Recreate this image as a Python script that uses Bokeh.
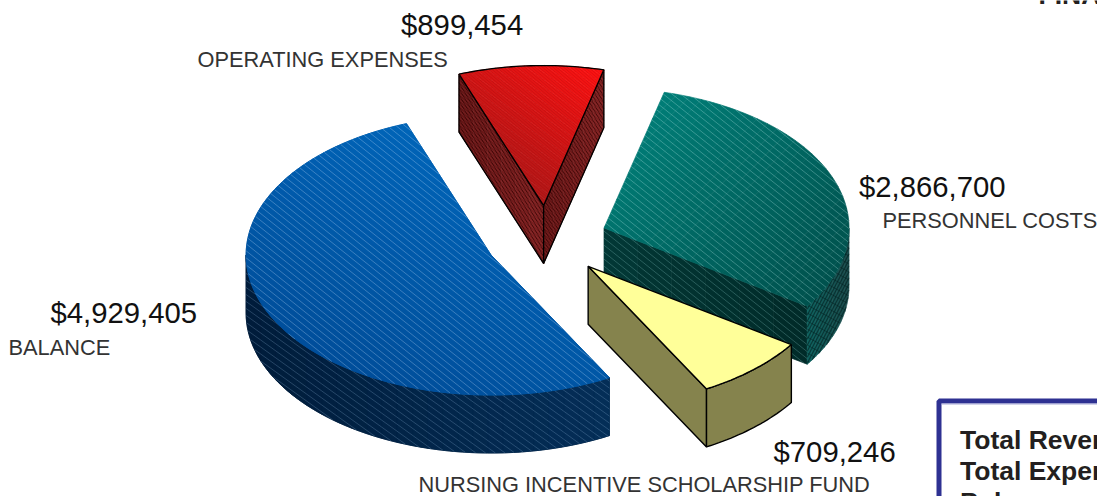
import math
from bokeh.plotting import figure
from bokeh.models import Range1d
from bokeh.core.properties import value
from bokeh.embed import file_html
from bokeh.resources import INLINE

categories = ["OPERATING EXPENSES", "PERSONNEL COSTS", "NURSING INCENTIVE SCHOLARSHIP FUND", "BALANCE"]
amounts = [899454, 2866700, 709246, 4929405]
amount_labels = ["$899,454", "$2,866,700", "$709,246", "$4,929,405"]
box_lines = ["Total Revenue", "Total Expenses", "Balance"]
page_title = ["FINANCIAL"]

# pie geometry (screen px)
CX, CY, RX, RY, DEPTH, EXPLODE, START = 546.3, 240.0, 245.0, 140.0, 58.0, 0.25, 110.2

p = figure(width=1097, height=496, output_backend="svg", toolbar_location=None,
           x_range=Range1d(0, 1097), y_range=Range1d(496, 0), min_border=0,
           outline_line_color=None, background_fill_color="white", x_axis_type=None, y_axis_type=None)
p.grid.visible = False

def arc(c, a0, a1, n=60):
    return [(c[0] + RX * math.cos(math.radians(a0 + (a1 - a0) * i / n)),
             c[1] - RY * math.sin(math.radians(a0 + (a1 - a0) * i / n))) for i in range(n + 1)]

def down(pts):
    return [(x, y + DEPTH) for x, y in pts]

def clip(poly, nx, ny, d):
    out = []
    for i in range(len(poly)):
        a, b = poly[i], poly[(i + 1) % len(poly)]
        fa, fb = a[0] * nx + a[1] * ny - d, b[0] * nx + b[1] * ny - d
        if fa >= 0:
            out.append(a)
        if (fa >= 0) != (fb >= 0):
            t = fa / (fa - fb)
            out.append((a[0] + t * (b[0] - a[0]), a[1] + t * (b[1] - a[1])))
    return out

def hex2(c):
    return tuple(int(c[i:i + 2], 16) for i in (1, 3, 5))

def gradient(poly, c0, c1, ang, n=24):
    nx, ny = math.cos(math.radians(ang)), math.sin(math.radians(ang))
    pr = [x * nx + y * ny for x, y in poly]
    lo, hi = min(pr), max(pr)
    a, b = hex2(c0), hex2(c1)
    xs, ys, cs = [], [], []
    for i in range(n):
        d0 = lo + (hi - lo) * i / n
        d1 = lo + (hi - lo) * (i + 1) / n
        q = clip(clip(poly, nx, ny, d0), -nx, -ny, -d1)
        if len(q) < 3:
            continue
        t = (i + .5) / n
        xs.append([x for x, _ in q])
        ys.append([y for _, y in q])
        cs.append("#%02x%02x%02x" % tuple(round(a[k] + (b[k] - a[k]) * t) for k in range(3)))
    p.patches(xs, ys, fill_color=cs, line_color=cs, line_width=0.7)

def hatch(poly, slope, spacing, color, alpha, width=0.7):
    ks = [y - slope * x for x, y in poly]
    k = min(ks) + spacing / 2
    xs, ys = [], []
    while k < max(ks):
        hits = []
        for i in range(len(poly)):
            (x0, y0), (x1, y1) = poly[i], poly[(i + 1) % len(poly)]
            f0, f1 = y0 - slope * x0 - k, y1 - slope * x1 - k
            if (f0 >= 0) != (f1 >= 0):
                t = f0 / (f0 - f1)
                hits.append((x0 + t * (x1 - x0), y0 + t * (y1 - y0)))
        hits.sort()
        if len(hits) % 2 == 0:
            for j in range(0, len(hits) - 1, 2):
                xs.append([hits[j][0], hits[j + 1][0]])
                ys.append([hits[j][1], hits[j + 1][1]])
        k += spacing
    p.multi_line(xs, ys, line_color=color, line_alpha=alpha, line_width=width)

def outline(pts, close=True, w=1.3):
    pts = list(pts) + ([pts[0]] if close else [])
    p.line([x for x, _ in pts], [y for _, y in pts], line_color="black", line_width=w)

# slice angles from the values
total = sum(amounts)
spans = [a / total * 360 for a in amounts]
bounds = [START]
for s in spans:
    bounds.append(bounds[-1] - s)
centers = []
for i in range(4):
    m = math.radians((bounds[i] + bounds[i + 1]) / 2)
    centers.append((CX + EXPLODE * RX * math.cos(m), CY - EXPLODE * RY * math.sin(m)))

# BALANCE
c = centers[3]
a0, a1 = bounds[3], bounds[4]
top = [c] + arc(c, a0, a1, 120)
w_arc = arc(c, a0, -180, 60)
wall = w_arc + down(w_arc)[::-1]
p.patch([x for x, _ in wall], [y for _, y in wall], fill_color="#001c3a", line_color="#001c3a", line_width=0.7)
gradient(wall, "#001c3a", "#042e58", 0)
hatch(wall, 0.72, 7.0, "#9fc4e8", 0.3, 0.8)
p.patch([x for x, _ in top], [y for _, y in top], fill_color="#005aa8", line_color="#005aa8", line_width=0.7)
gradient(top, "#004e9a", "#0064b8", -65)
hatch(top, 0.8, 7.0, "#cfe6ff", 0.36, 0.8)

# OPERATING EXPENSES
c = centers[0]
a0, a1 = bounds[0], bounds[1]
e0, e1 = arc(c, a0, a0, 1)[0], arc(c, a1, a1, 1)[0]
f1 = [c, e0, (e0[0], e0[1] + DEPTH), (c[0], c[1] + DEPTH)]
f2 = [c, e1, (e1[0], e1[1] + DEPTH), (c[0], c[1] + DEPTH)]
for f in (f1, f2):
    gradient(f, "#641414", "#7e2020", 0, 6)
    hatch(f, 1.7, 6.0, "#300000", 0.7, 1.0)
    hatch(f, 0.8, 3.0, "#c06060", 0.35, 0.5)
    outline(f)
top = [c] + arc(c, a0, a1, 30)
gradient(top, "#b01818", "#ff1212", -55)
hatch(top, 0.85, 3.0, "#700000", 0.22, 0.7)
outline(top)

# PERSONNEL COSTS
c = centers[1]
a0, a1 = bounds[1], bounds[2]
e1 = arc(c, a1, a1, 1)[0]
f = [c, e1, (e1[0], e1[1] + DEPTH), (c[0], c[1] + DEPTH)]
gradient(f, "#023836", "#012a28", 0, 6)
hatch(f, 0.8, 7.0, "#9fe0dc", 0.32, 0.8)
w_arc = arc(c, a1, 0, 30)
wall = w_arc + down(w_arc)[::-1]
gradient(wall, "#0e6360", "#1c4c4c", 0, 10)
hatch(wall, -1.9, 6.0, "#021e1e", 0.6, 1.2)
hatch(wall, 0.55, 8.0, "#021e1e", 0.5, 1.0)
top = [c] + arc(c, a0, a1, 80)
gradient(top, "#007d77", "#00514d", 45)
hatch(top, 0.8, 7.0, "#b8f0ec", 0.38, 0.8)

# NURSING INCENTIVE SCHOLARSHIP FUND
c = centers[2]
a0, a1 = bounds[2], bounds[3]
e1 = arc(c, a1, a1, 1)[0]
f = [c, e1, (e1[0], e1[1] + DEPTH), (c[0], c[1] + DEPTH)]
p.patch([x for x, _ in f], [y for _, y in f], fill_color="#85834d", line_color="black", line_width=1.4)
w_arc = arc(c, a0, a1, 24)
wall = w_arc + down(w_arc)[::-1]
p.patch([x for x, _ in wall], [y for _, y in wall], fill_color="#85834d", line_color="black", line_width=1.4)
top = [c] + arc(c, a0, a1, 24)
p.patch([x for x, _ in top], [y for _, y in top], fill_color="#ffff99", line_color="black", line_width=1.4)

# labels
font = value("Liberation Sans")
val_x = [400.5, 858.5, 773, 50]
val_y = [24, 186, 451, 312]
cat_x = [197, 882, 418, 8]
cat_y = [59, 220, 484, 347]
p.text(val_x, val_y, text=amount_labels, text_font=font, text_font_size="29.3px",
       text_color="#111111", text_baseline="middle", text_align="left")
p.text(cat_x, cat_y, text=categories, text_font=font, text_font_size="21.8px",
       text_color="#333333", text_baseline="middle", text_align="left")

# summary box, cut by the page edge
p.line([1097, 938.5, 938.5], [400.5, 400.5, 496], line_color="#2e3192", line_width=5)
p.line([1097, 941], [403.5, 403.5], line_color="#a5a7d6", line_width=1)
p.text([959.5, 959.5, 959.5], [439, 470, 501], text=box_lines, text_font=font, text_font_size="26.5px",
       text_font_style="bold", text_color="#231f20", text_baseline="middle", text_align="left")
p.text([1038], [-6], text=page_title, text_font=font, text_font_size="26.5px",
       text_font_style="bold", text_color="#231f20", text_baseline="middle", text_align="left")

open("out.html", "w").write(file_html(p, INLINE))
